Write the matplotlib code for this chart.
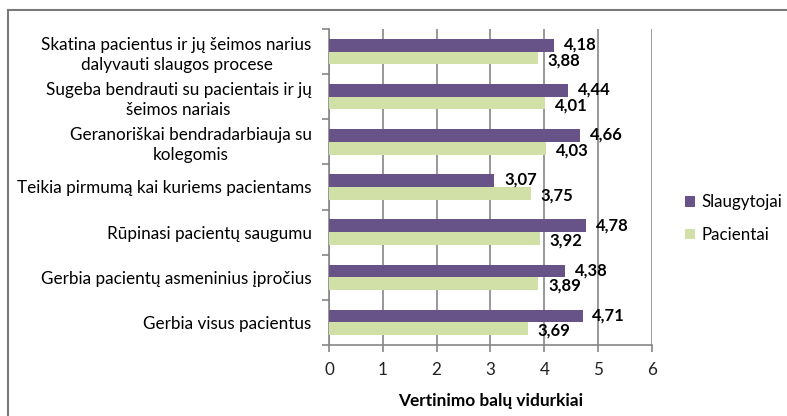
import matplotlib
matplotlib.use("Agg")
import matplotlib.pyplot as plt
from matplotlib.lines import Line2D
import numpy as np

# categories listed top to bottom as in the chart
categories = [
    "Skatina pacientus ir jų šeimos narius\ndalyvauti slaugos procese",
    "Sugeba bendrauti su pacientais ir jų\nšeimos nariais",
    "Geranoriškai bendradarbiauja su\nkolegomis",
    "Teikia pirmumą kai kuriems pacientams",
    "Rūpinasi pacientų saugumu",
    "Gerbia pacientų asmeninius įpročius",
    "Gerbia visus pacientus",
]
slaugytojai = [4.18, 4.44, 4.66, 3.07, 4.78, 4.38, 4.71]
pacientai = [3.88, 4.01, 4.03, 3.75, 3.92, 3.89, 3.69]
series_names = ["Slaugytojai", "Pacientai"]
xticks = [0, 1, 2, 3, 4, 5, 6]

purple = "#675387"
green = "#d1e0a6"
gray = "#868686"

plt.rcParams['font.family'] = ['Lato', 'DejaVu Sans']

fig = plt.figure(figsize=(7.87, 4.16), dpi=100)
ax = fig.add_axes([0.418, 0.171, 0.4105, 0.759])

n = len(categories)
y = np.arange(n)[::-1]  # top category at the top
h = 0.28

ax.barh(y + h / 2, slaugytojai, height=h, color=purple, label=series_names[0], zorder=3)
ax.barh(y - h / 2, pacientai, height=h, color=green, label=series_names[1], zorder=3)

def fmt(v):
    return f"{v:.2f}".replace(".", ",")

for yi, v in zip(y, slaugytojai):
    ax.annotate(fmt(v), (v, yi + h / 2), xytext=(7, 0.5), textcoords="offset points",
                ha="left", va="center", fontsize=12, fontweight="bold", zorder=4)
for yi, v in zip(y, pacientai):
    ax.annotate(fmt(v), (v, yi - h / 2), xytext=(7, -1.5), textcoords="offset points",
                ha="left", va="center", fontsize=12, fontweight="bold", zorder=4)

ax.set_xlim(0, 6)
ax.set_ylim(-0.5, n - 0.5)
ax.set_xticks(xticks)
ax.set_xticklabels([str(t) for t in xticks], fontsize=12.3, color="#222222")
ax.grid(axis="x", color=gray, linewidth=1.2, zorder=0)

ax.set_yticks(y)
ax.set_yticklabels(categories, fontsize=12.3, multialignment="center", linespacing=1.3)
ax.set_yticks(np.arange(n + 1) - 0.5, minor=True)
ax.tick_params(axis="y", which="major", length=0, pad=12.5)
ax.tick_params(axis="y", which="minor", length=5, color=gray, width=1.2)
ax.tick_params(axis="x", length=5, color=gray, width=1.2, pad=7)

for side in ["top", "right"]:
    ax.spines[side].set_visible(False)
for side in ["left", "bottom"]:
    ax.spines[side].set_color(gray)
    ax.spines[side].set_linewidth(1.2)

ax.set_xlabel("Vertinimo balų vidurkiai", fontsize=12.4, fontweight="bold", labelpad=11)

ax.legend(loc="center left", bbox_to_anchor=(1.055, 0.40), frameon=False, fontsize=12.2,
          handlelength=0.6, handleheight=0.6, labelspacing=1.0, handletextpad=0.35)

# outer chart border (only top and left edges visible in the image)
fig.add_artist(Line2D([8 / 787, 8 / 787], [0, 1 - 10 / 416], transform=fig.transFigure,
                      color="#7a7a7a", linewidth=1.5))
fig.add_artist(Line2D([8 / 787, 1], [1 - 10 / 416, 1 - 10 / 416], transform=fig.transFigure,
                      color="#7a7a7a", linewidth=1.5))

fig.savefig("out.png", dpi=100)
